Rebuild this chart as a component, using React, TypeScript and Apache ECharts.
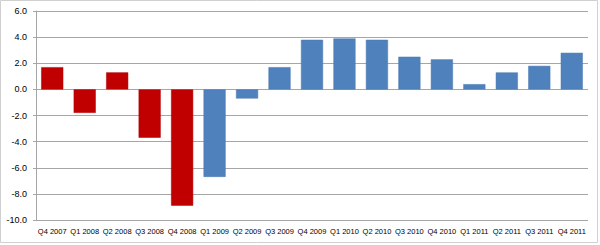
import React, { useEffect, useRef } from "react";
import * as echarts from "echarts";

const categories = [
  "Q4 2007", "Q1 2008", "Q2 2008", "Q3 2008", "Q4 2008",
  "Q1 2009", "Q2 2009", "Q3 2009", "Q4 2009",
  "Q1 2010", "Q2 2010", "Q3 2010", "Q4 2010",
  "Q1 2011", "Q2 2011", "Q3 2011", "Q4 2011",
];
const values = [1.7, -1.8, 1.3, -3.7, -8.9, -6.7, -0.7, 1.7, 3.8, 3.9, 3.8, 2.5, 2.3, 0.4, 1.3, 1.8, 2.8];
const redQuarters = ["Q4 2007", "Q1 2008", "Q2 2008", "Q3 2008", "Q4 2008"];

const RED = "#C00000";
const BLUE = "#4F81BD";

export default function App() {
  const ref = useRef<HTMLDivElement>(null);
  useEffect(() => {
    document.body.style.margin = "0";
    const chart = echarts.init(ref.current!, null, { renderer: "svg" });
    const font = "'Liberation Sans', Arial, sans-serif";
    chart.setOption({
      animation: false,
      backgroundColor: "#ffffff",
      grid: { left: 36, right: 12, top: 11, bottom: 25, containLabel: false },
      graphic: [
        {
          type: "rect",
          shape: { x: 0.5, y: 0.5, width: 597, height: 242 },
          style: { fill: "none", stroke: "#D0D0D0", lineWidth: 1 },
          silent: true,
        },
      ],
      xAxis: {
        type: "category",
        data: categories,
        axisLine: { show: false },
        axisTick: { show: false },
        axisLabel: { color: "#000", fontFamily: font, fontSize: 7.5, margin: 7, interval: 0 },
      },
      yAxis: {
        type: "value",
        min: -10,
        max: 6,
        interval: 2,
        axisLine: { show: true, lineStyle: { color: "#A6A6A6" } },
        axisTick: { show: true, length: 3, lineStyle: { color: "#A6A6A6" } },
        splitLine: { show: true, lineStyle: { color: "#A6A6A6", width: 1 } },
        axisLabel: {
          color: "#000",
          fontFamily: font,
          fontSize: 9,
          margin: 9,
          formatter: (v: number) => v.toFixed(1),
        },
      },
      series: [
        {
          type: "bar",
          barCategoryGap: "32%",
          data: values.map((v, i) => {
            const red = redQuarters.includes(categories[i]);
            return {
              value: v,
              itemStyle: {
                color: red ? RED : BLUE,
                borderColor: red ? "#B00000" : "#4A7AB3",
                borderWidth: 0.5,
              },
            };
          }),
        },
      ],
    });
    return () => chart.dispose();
  }, []);
  return <div ref={ref} style={{ width: 600, height: 245 }} />;
}
